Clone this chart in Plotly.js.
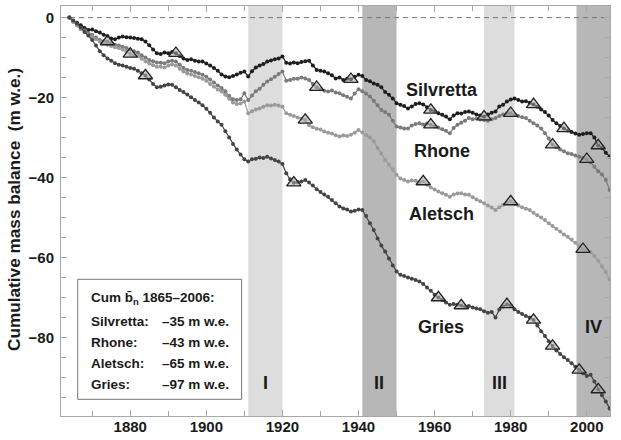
<!DOCTYPE html>
<html>
<head>
<meta charset="utf-8">
<script src="https://cdn.plot.ly/plotly-3.0.1.min.js"></script>
<style>html,body{margin:0;padding:0;background:#fff;}#chart{width:621px;height:440px;}</style>
</head>
<body>
<div id="chart"></div>
<script>
// ---- data (cumulative mass balance, m w.e.) ----
const firstYear = 1864;
const silvretta = [0,-0.8,-1.3,-1.9,-2.6,-3.1,-3.0,-3.4,-3.7,-4.3,-4.6,-5.2,-5.4,-5.0,-4.7,-4.9,-5.0,-5.1,-5.3,-5.4,-6.0,-6.9,-8.0,-8.9,-9.1,-8.7,-8.9,-8.6,-8.9,-9.6,-10.2,-10.6,-10.4,-10.8,-11.0,-11.0,-11.5,-12.0,-12.6,-13.3,-14.2,-14.7,-14.9,-14.6,-14.2,-13.8,-13.5,-14.7,-13.4,-12.5,-12.0,-11.6,-11.0,-10.7,-10.4,-10.2,-9.7,-11.3,-11.5,-11.2,-11.4,-11.1,-10.9,-10.8,-12.0,-13.1,-13.3,-13.5,-13.9,-14.4,-15.2,-15.0,-15.6,-15.3,-15.4,-14.8,-14.3,-14.6,-15.6,-15.9,-16.5,-16.8,-17.4,-18.6,-19.3,-20.2,-21.4,-21.8,-22.1,-22.7,-22.2,-21.6,-21.4,-21.7,-22.4,-23.1,-23.4,-23.9,-24.3,-24.7,-25.4,-24.5,-23.9,-24.0,-23.6,-23.5,-23.8,-24.2,-24.5,-24.8,-24.2,-23.8,-23.5,-22.2,-21.8,-21.0,-20.5,-20.2,-20.6,-21.0,-20.9,-21.3,-21.7,-22.3,-23.0,-23.6,-24.5,-25.6,-26.4,-27.1,-27.7,-28.2,-28.6,-29.0,-29.3,-29.1,-28.9,-28.9,-30.0,-32.0,-32.6,-33.8,-34.7];
const rhone = [0,-1.0,-1.8,-2.6,-3.2,-3.9,-4.3,-5.0,-5.6,-5.9,-6.0,-6.4,-6.8,-7.0,-7.3,-7.6,-8.0,-8.4,-8.7,-9.4,-10.0,-10.6,-10.9,-11.2,-11.3,-11.4,-11.0,-10.8,-11.0,-11.8,-12.6,-13.1,-13.3,-13.6,-13.9,-14.3,-14.8,-15.5,-16.2,-17.0,-17.6,-18.4,-19.6,-20.4,-20.6,-20.4,-18.9,-20.6,-19.5,-18.4,-17.8,-16.8,-16.0,-15.4,-14.8,-14.1,-13.5,-15.8,-15.6,-15.3,-15.3,-15.0,-15.2,-15.6,-16.6,-17.4,-17.9,-18.3,-18.5,-18.2,-18.7,-18.9,-19.4,-19.8,-20.2,-19.0,-17.9,-18.4,-19.0,-19.7,-20.8,-21.9,-23.1,-23.6,-24.3,-25.8,-27.2,-27.5,-27.7,-27.7,-27.0,-26.6,-26.4,-26.7,-26.5,-26.8,-27.2,-27.5,-27.9,-28.3,-28.9,-27.6,-26.8,-26.3,-25.8,-25.1,-25.4,-25.2,-25.5,-25.6,-25.8,-25.4,-25.1,-24.6,-24.2,-23.9,-23.9,-24.3,-24.6,-24.9,-25.1,-25.8,-26.4,-27.0,-27.7,-28.9,-30.2,-31.8,-32.4,-33.0,-33.4,-33.9,-34.1,-34.5,-34.8,-35.1,-35.4,-36.2,-37.3,-38.4,-39.2,-40.6,-43.1];
const aletsch = [0,-1.1,-2.0,-2.9,-3.6,-4.3,-4.8,-5.4,-6.0,-6.4,-6.8,-7.1,-7.4,-7.6,-8.0,-8.5,-9.1,-9.4,-9.6,-10.3,-10.9,-11.5,-11.9,-12.3,-12.3,-12.5,-12.0,-11.7,-12.0,-12.8,-13.5,-14.0,-14.2,-14.6,-14.9,-15.3,-15.8,-16.6,-17.3,-18.0,-18.5,-19.3,-20.3,-21.2,-21.6,-21.5,-21.0,-23.9,-23.4,-23.0,-22.7,-22.3,-21.9,-22.0,-21.8,-22.0,-22.3,-23.9,-24.3,-24.6,-25.0,-25.3,-25.6,-26.9,-27.4,-27.8,-28.0,-28.5,-28.8,-29.0,-29.4,-29.7,-29.5,-29.6,-29.3,-28.8,-28.1,-28.7,-29.4,-30.0,-30.9,-32.6,-34.0,-35.6,-36.8,-38.0,-39.3,-40.2,-40.6,-41.0,-40.7,-40.8,-41.2,-41.0,-41.8,-42.5,-43.0,-43.5,-43.9,-44.3,-44.8,-44.2,-44.0,-43.9,-44.2,-44.3,-44.9,-45.5,-45.9,-46.4,-47.0,-47.5,-48.1,-47.4,-46.8,-46.3,-46.0,-46.6,-47.0,-47.4,-47.8,-48.1,-48.8,-49.4,-50.0,-50.6,-51.4,-52.1,-52.8,-53.5,-54.2,-54.8,-55.5,-56.3,-57.1,-57.9,-58.2,-58.6,-59.6,-60.8,-62.2,-63.6,-65.4];
const gries = [0,-0.7,-1.5,-2.5,-3.6,-4.5,-5.6,-7.0,-8.4,-9.4,-10.2,-10.8,-11.4,-11.8,-12.0,-12.3,-12.6,-12.8,-13.3,-13.9,-14.5,-15.5,-16.6,-17.4,-17.3,-17.0,-16.7,-16.8,-17.4,-18.1,-18.6,-19.2,-19.9,-20.6,-21.2,-21.9,-22.8,-23.8,-25.0,-26.0,-26.8,-28.4,-30.0,-31.6,-33.0,-34.2,-35.4,-36.0,-35.4,-35.3,-35.0,-35.1,-34.8,-35.2,-35.6,-36.0,-36.6,-38.9,-40.4,-41.3,-41.1,-41.0,-40.6,-41.2,-42.0,-42.9,-43.6,-44.2,-44.8,-45.6,-46.4,-47.2,-47.7,-48.0,-48.5,-48.3,-48.0,-48.1,-49.6,-51.4,-53.1,-55.2,-57.0,-58.5,-60.2,-62.0,-63.5,-64.3,-64.6,-65.0,-65.3,-65.6,-66.0,-66.6,-67.5,-68.3,-69.3,-70.0,-70.6,-71.2,-71.8,-71.6,-71.8,-72.0,-72.3,-72.1,-72.5,-72.7,-72.9,-73.4,-73.8,-73.6,-75.0,-73.0,-72.2,-71.7,-72.0,-72.9,-73.6,-74.1,-74.6,-75.0,-75.6,-77.0,-78.4,-79.6,-80.9,-82.1,-83.2,-84.1,-84.9,-85.6,-86.4,-87.3,-88.1,-88.9,-89.6,-89.3,-91.0,-93.0,-94.4,-96.0,-97.7];

// geodetic survey years (triangles)
const triSilvretta = [1892,1938,1959,1973,1986,1994,2003];
const triRhone = [1874,1929,1959,1980,1991,2000];
const triAletsch = [1880,1926,1957,1980,1999];
const triGries = [1884,1923,1961,1967,1979,1986,1991,1998,2003];

// shaded periods
const bandStart = [1911,1941,1973,1997.3];
const bandEnd = [1920,1950,1981,2006.1];
const bandLabels = ['I','II','III','IV'];
const bandLabelY = [-91.3,-91.3,-91.3,-77.3];

const seriesNames = ['Silvretta','Rhone','Aletsch','Gries'];
const cumTotals = ['–35 m w.e.','–43 m w.e.','–65 m w.e.','–97 m w.e.'];

// x/y axis ticks
const xTickVals = [1880,1900,1920,1940,1960,1980,2000];
const yTickVals = [0,-20,-40,-60,-80];

// ---- build ----
const years = silvretta.map((_, i) => firstYear + i);
const seriesData = [silvretta, rhone, aletsch, gries];
const seriesColors = ['#1e1e1e','#7a7a7a','#9a9a9a','#444444'];
const triYears = [triSilvretta, triRhone, triAletsch, triGries];

const FONT = 'Liberation Sans, Arial, Helvetica, sans-serif';
const traces = [];
seriesData.forEach((vals, k) => {
  traces.push({
    x: years, y: vals, type: 'scatter', mode: 'lines+markers',
    line: {color: seriesColors[k], width: 1.2},
    marker: {color: seriesColors[k], size: 4},
    hoverinfo: 'skip', showlegend: false
  });
});
seriesData.forEach((vals, k) => {
  const tx = triYears[k];
  const ty = tx.map(yr => vals[yr - firstYear]);
  traces.push({
    x: tx, y: ty, type: 'scatter', mode: 'markers',
    marker: {symbol: 'triangle-up', size: 12.5, color: 'rgba(170,170,170,0.55)',
             line: {color: '#222', width: 1.3}},
    hoverinfo: 'skip', showlegend: false
  });
});

const shapes = [];
bandStart.forEach((s, i) => {
  shapes.push({type: 'rect', xref: 'x', yref: 'paper', x0: s, x1: bandEnd[i], y0: 0, y1: 1,
    fillcolor: (i % 2 === 0) ? '#dddddd' : '#b7b7b7', line: {width: 0}, layer: 'below'});
});
shapes.push({type: 'line', xref: 'paper', yref: 'y', x0: 0, x1: 1, y0: 0, y1: 0,
  line: {color: '#777', width: 1, dash: '5px,4px'}, layer: 'below'});
// summary box
shapes.push({type: 'rect', xref: 'paper', yref: 'paper', x0: 0.0304, x1: 0.329, y0: 0.0407, y1: 0.3334,
  fillcolor: 'rgba(255,255,255,0)', line: {color: '#777', width: 1}});

const annotations = [];
// series labels
const labelPos = [[1962, -18.1], [1962, -33.3], [1961.8, -49.1], [1961.8, -77.3]];
seriesNames.forEach((n, i) => {
  annotations.push({x: labelPos[i][0], y: labelPos[i][1], xref: 'x', yref: 'y', text: n,
    showarrow: false, font: {family: FONT, size: 18, color: '#1a1a1a', weight: 'bold'}});
});
bandLabels.forEach((t, i) => {
  annotations.push({x: (bandStart[i] + bandEnd[i]) / 2, y: bandLabelY[i], xref: 'x', yref: 'y', text: t,
    showarrow: false, font: {family: FONT, size: 18, color: '#1a1a1a', weight: 'bold'}});
});
// summary box text
const boxFont = {family: FONT, size: 13.5, color: '#1a1a1a', weight: 'bold'};
annotations.push({x: 0.051, y: 0.287, xref: 'paper', yref: 'paper', xanchor: 'left', yanchor: 'middle',
  text: 'Cum b\u0304<sub>n</sub> 1865–2006:', showarrow: false, font: boxFont});
const rowY = [0.230, 0.179, 0.1285, 0.078];
seriesNames.forEach((n, i) => {
  annotations.push({x: 0.051, y: rowY[i], xref: 'paper', yref: 'paper', xanchor: 'left', yanchor: 'middle',
    text: n + ':', showarrow: false, font: boxFont});
  annotations.push({x: 0.1803, y: rowY[i], xref: 'paper', yref: 'paper', xanchor: 'left', yanchor: 'middle',
    text: cumTotals[i], showarrow: false, font: boxFont});
});
// y axis title
annotations.push({x: -0.1075, y: 0.505, xref: 'paper', yref: 'paper', textangle: -90, xanchor: 'left',
  text: 'Cumulative mass balance  (m w.e.)', showarrow: false,
  font: {family: FONT, size: 17.2, color: '#1a1a1a', weight: 'bold'}});

const axisCommon = {
  showline: true, linecolor: '#a8a8a8', linewidth: 1, mirror: 'allticks',
  ticks: 'inside', ticklen: 6, tickcolor: '#a8a8a8', tickwidth: 1,
  showgrid: false, zeroline: false,
  tickfont: {family: FONT, size: 15, color: '#1a1a1a', weight: 'bold'}
};
const layout = {
  width: 621, height: 440,
  margin: {l: 61, r: 11, t: 6, b: 24},
  paper_bgcolor: '#fff', plot_bgcolor: '#fff',
  xaxis: Object.assign({}, axisCommon, {range: [1861.8, 2006.1], tickvals: xTickVals,
    minor: {dtick: 10, tick0: 1870, ticks: 'inside', ticklen: 5, tickcolor: '#a8a8a8', showgrid: false},
    ticklabelstandoff: -3}),
  yaxis: Object.assign({}, axisCommon, {range: [-99.6, 2.9], tickvals: yTickVals,
    ticktext: yTickVals.map(v => v < 0 ? '−' + Math.abs(v) : String(v)),
    minor: {dtick: 5, tick0: 0, ticks: 'inside', ticklen: 5, tickcolor: '#a8a8a8', showgrid: false},
    ticklabelstandoff: 3}),
  shapes: shapes, annotations: annotations, showlegend: false
};
Plotly.newPlot('chart', traces, layout, {displayModeBar: false, staticPlot: true});
</script>
</body>
</html>
